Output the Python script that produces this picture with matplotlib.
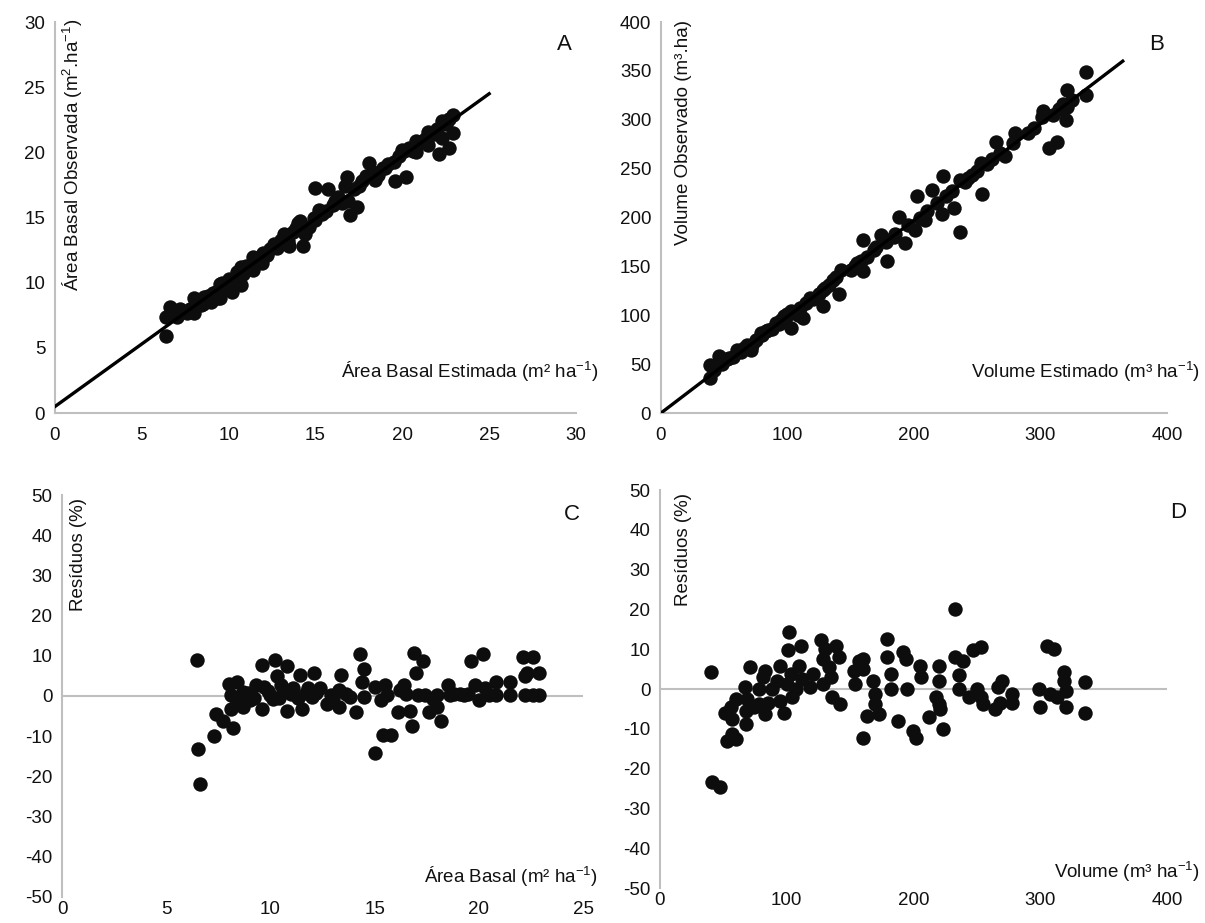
"""Observed vs estimated basal area / volume and residuals (4 panels)"""

import matplotlib
matplotlib.use("Agg")
import matplotlib.pyplot as plt

plt.rcParams['font.family'] = ['Liberation Sans', 'DejaVu Sans']
plt.rcParams['mathtext.fontset'] = 'custom'
plt.rcParams['mathtext.rm'] = 'Liberation Sans'
plt.rcParams['mathtext.it'] = 'Liberation Sans'
plt.rcParams['axes.unicode_minus'] = False

# ---- Panel A: basal area, estimated (x) vs observed (y)
ab_est = [6.4, 6.4, 6.6, 7.2, 7.6, 8.0, 8.0, 8.4, 8.6, 9.0, 9.4, 9.5, 9.5, 9.7, 10.2,
          10.4, 10.7, 10.7, 11.4, 11.4, 11.9, 12.0, 12.6, 13.2, 13.5, 14.0, 14.3, 14.4,
          15.0, 15.0, 15.4, 15.7, 16.1, 16.7, 16.8, 16.9, 17.0, 17.4, 17.7, 18.1, 18.4,
          19.0, 19.6, 20.2, 20.1, 20.8, 20.8, 21.5, 21.5, 22.1, 22.3, 22.7, 22.9, 22.9,
          22.3,
          7.0, 7.3, 7.8, 8.2, 8.5, 8.8, 9.1, 9.3, 9.6, 9.8, 10.0, 10.3, 10.5, 10.8, 11.0,
          11.2, 11.5, 11.7, 12.2, 12.4, 12.8, 13.0, 13.4, 13.7, 13.9, 14.1, 14.6, 14.9,
          15.2, 15.6, 16.0, 16.3, 16.5, 17.2, 17.5, 17.9, 18.3, 18.6, 18.9, 19.2, 19.5,
          19.8, 20.0, 20.4, 20.6, 21.0, 21.3, 21.8, 22.0, 22.5, 22.7]
ab_obs = [5.9, 7.4, 8.1, 8.0, 7.7, 7.7, 8.8, 8.3, 8.9, 8.5, 8.8, 9.9, 8.8, 9.5, 9.3,
          10.0, 9.8, 11.2, 11.0, 12.0, 11.5, 12.3, 13.0, 13.7, 12.8, 14.6, 12.8, 13.7,
          17.3, 14.8, 15.3, 17.2, 16.3, 17.4, 18.1, 16.3, 15.2, 15.8, 17.8, 19.2, 17.9,
          18.8, 17.8, 18.1, 20.1, 20.9, 20.0, 21.6, 20.6, 19.9, 21.1, 20.3, 21.5, 22.9,
          22.4,
          7.4, 7.8, 8.0, 8.5, 8.4, 9.0, 9.2, 9.3, 10.0, 9.7, 10.3, 10.2, 10.8, 10.7, 11.3,
          11.1, 11.6, 11.9, 12.1, 12.6, 12.7, 13.3, 13.2, 13.9, 14.2, 14.7, 14.3, 15.0,
          15.6, 15.5, 16.0, 16.6, 16.1, 17.2, 17.4, 18.2, 18.5, 18.3, 18.8, 19.1, 19.3,
          19.7, 20.2, 20.3, 20.1, 20.8, 21.0, 21.4, 21.8, 22.2, 22.6]
ab_line_x = [0, 25]
ab_line_y = [0.5, 24.5]

# ---- Panel B: volume, estimated (x) vs observed (y)
vol_est = [39, 39, 46, 54, 60, 68, 71, 79, 85, 91, 97, 103, 103, 108, 112, 120, 128, 128,
           136, 142, 141, 153, 160, 160, 168, 174, 179, 184, 188, 193, 202, 201, 209, 214,
           222, 223, 232, 236, 236, 246, 254, 253, 265, 272, 280, 301, 302, 307, 313, 320,
           321, 336, 336, 321,
           42, 48, 52, 57, 63, 66, 72, 75, 80, 83, 88, 93, 95, 99, 100, 105, 110, 115, 118,
           125, 130, 133, 138, 150, 155, 158, 163, 170, 178, 185, 195, 205, 210, 218, 225,
           230, 240, 243, 250, 258, 262, 268, 278, 290, 295, 310, 315, 318, 325]
vol_obs = [36, 49, 58, 56, 65, 70, 65, 82, 85, 92, 99, 104, 87, 100, 97, 117, 110, 126,
           136, 146, 122, 150, 145, 177, 167, 182, 156, 180, 201, 174, 222, 187, 197, 228,
           204, 242, 210, 185, 238, 244, 224, 256, 277, 263, 286, 303, 309, 271, 277, 300,
           330, 349, 325, 313,
           44, 50, 55, 57, 62, 67, 70, 75, 80, 84, 86, 91, 95, 98, 101, 103, 107, 113, 118,
           122, 128, 131, 139, 146, 153, 156, 160, 170, 175, 183, 192, 200, 207, 215, 222,
           227, 236, 240, 248, 255, 260, 266, 276, 286, 292, 305, 311, 316, 320]
vol_line_x = [0, 365]
vol_line_y = [0, 360]

# ---- Panel C: residuals (%) vs basal area
res_ab_x = [6.46, 6.5, 6.6, 7.3, 7.4, 7.7, 8.0, 8.1, 8.1, 8.2, 8.4, 8.7, 8.7, 9.0, 9.3,
            9.6, 9.7, 9.6, 10.0, 10.2, 10.3, 10.5, 10.8, 10.8, 11.1, 11.4, 11.5, 11.8,
            12.1, 12.4, 12.7, 12.9, 13.3, 13.3, 13.4, 13.8, 14.1, 14.3, 14.4, 14.5, 14.5,
            15.0, 15.0, 15.3, 15.5, 15.4, 15.8, 16.1, 16.2, 16.4, 16.7, 16.8, 16.9, 17.0,
            17.1, 17.3, 17.4, 17.6, 18.0, 18.0, 18.2, 18.5, 18.6, 19.1, 19.5, 19.6, 19.8,
            20.0, 20.2, 20.3, 20.8, 20.8, 21.5, 21.5, 22.1, 22.2, 22.2, 22.3, 22.6, 22.6,
            22.9, 22.9,
            9.2, 9.9, 10.4, 10.6, 11.0, 11.3, 11.7, 12.0, 12.2, 13.0, 13.6, 15.6, 16.5,
            17.8, 18.8, 19.3, 20.5, 10.1, 8.4, 8.9]
res_ab_y = [8.9, -13.3, -22.0, -10.0, -4.5, -6.2, 3.1, 0.2, -3.2, -7.9, 3.6, 1.0, -2.8,
            -1.1, 2.7, 7.8, 2.3, -3.2, 0.2, 8.9, 4.9, 2.7, 7.4, -3.7, 1.9, 5.3, -3.2, 1.9,
            5.7, 1.9, -1.9, 0.2, 1.5, -2.8, 5.3, -0.2, -4.0, 10.4, 3.6, 6.6, -0.2, 2.3,
            -14.3, -1.1, 2.7, -9.6, -9.6, -4.1, 1.5, 2.7, -3.7, -7.5, 10.6, 5.7, 0.2, 8.7,
            0.2, -4.1, 0.2, -2.8, -6.2, 2.7, 0.2, 0.6, 0.6, 8.7, 2.7, -1.1, 10.4, 1.9, 0.2,
            3.6, 0.2, 3.6, 9.7, 4.9, 0.2, 5.7, 9.7, 0.2, 0.2, 5.7,
            -0.5, 1.2, -0.4, 1.0, 0.5, -0.5, 0.8, -0.3, 0.7, -0.6, 0.4, 0.3, 0.5, -0.8, 0.4,
            0.3, 0.2, -0.8, -1.5, 0.8]

# ---- Panel D: residuals (%) vs volume
res_vol_x = [40, 41, 47, 51, 53, 56, 57, 57, 60, 60, 67, 68, 68, 69, 71, 74, 78, 78, 81,
             83, 83, 85, 88, 92, 95, 95, 98, 100, 101, 102, 103, 104, 107, 110, 111, 112,
             118, 121, 127, 129, 129, 130, 133, 135, 136, 139, 141, 142, 153, 154, 157,
             160, 160, 160, 163, 168, 170, 170, 173, 179, 179, 182, 182, 188, 192, 194,
             195, 200, 202, 205, 206, 212, 220, 220, 218, 220, 221, 223, 233, 233, 236,
             236, 239, 244, 247, 250, 253, 253, 255, 264, 267, 270, 268, 278, 278, 299,
             300, 305, 311, 308, 313, 319, 319, 320, 320, 335, 335]
res_vol_y = [4.4, -23.4, -24.6, -5.9, -13.0, -4.6, -7.6, -11.3, -12.6, -2.5, 0.4, -5.5,
             -8.8, -2.5, 5.5, -4.6, 0.0, -3.8, 2.9, 4.6, -6.3, -3.4, 0.0, 2.1, 5.9, -2.9,
             -5.9, 1.3, 9.7, 14.3, 3.8, -2.1, 0.0, 5.9, 10.9, 2.5, 0.4, 3.8, 12.2, 7.6,
             1.3, 10.1, 5.5, 2.9, -2.1, 10.9, 8.0, -3.8, 4.6, 1.3, 7.1, 7.6, -12.2, 5.0,
             -6.7, 2.1, -1.3, -3.8, -6.3, 12.6, 8.0, 3.8, 0.0, -8.0, 9.2, 7.6, 0.0, -10.5,
             -12.2, 5.9, 2.9, -7.1, 5.9, 2.1, -2.1, -3.8, -5.0, -10.1, 20.2, 8.0, 3.4, 0.0,
             7.1, -2.1, 9.7, 0.0, 10.5, -2.1, -3.8, -5.0, 0.4, 2.1, -3.4, -1.3, -3.4, 0.0,
             -4.6, 10.9, 10.1, -1.3, -2.1, 4.2, 2.1, -0.4, -4.6, 1.7, -5.9]

GRAY = '#BFBFBF'
DOT = '#0d0d0d'
FS = 13.5
MS = 108

fig = plt.figure(figsize=(12.05, 9.23), dpi=100)

def style(ax, xlim, ylim, xstep, ystep, zero_line=False):
    ax.set_xlim(*xlim)
    ax.set_ylim(*ylim)
    ax.set_xticks(range(xlim[0], xlim[1] + 1, xstep))
    ax.set_yticks(range(ylim[0], ylim[1] + 1, ystep))
    for s in ['top', 'right']:
        ax.spines[s].set_visible(False)
    ax.spines['left'].set_color(GRAY)
    ax.spines['left'].set_linewidth(1.5)
    if zero_line:
        ax.spines['bottom'].set_visible(False)
        ax.axhline(0, color=GRAY, lw=1.5, zorder=1)
        ax.tick_params(axis='x', pad=3)
    else:
        ax.spines['bottom'].set_color(GRAY)
        ax.spines['bottom'].set_linewidth(1.5)
        ax.tick_params(axis='x', pad=10)
    ax.tick_params(length=0, labelsize=FS, colors='#111111')
    ax.tick_params(axis='y', pad=7)

# A
axA = fig.add_axes([0.0456, 0.5525, 0.4324, 0.4236])
style(axA, (0, 30), (0, 30), 5, 5)
axA.plot(ab_line_x, ab_line_y, color='black', lw=2.4, zorder=3)
axA.scatter(ab_est, ab_obs, s=MS, color=DOT, zorder=2, linewidths=0)

# B
axB = fig.add_axes([0.5485, 0.5525, 0.420, 0.4236])
style(axB, (0, 400), (0, 400), 100, 50)
axB.plot(vol_line_x, vol_line_y, color='black', lw=2.4, zorder=3)
axB.scatter(vol_est, vol_obs, s=MS, color=DOT, zorder=2, linewidths=0)

# C
axC = fig.add_axes([0.0515, 0.0282, 0.4324, 0.4355])
style(axC, (0, 25), (-50, 50), 5, 10, zero_line=True)
axC.scatter(res_ab_x, res_ab_y, s=MS, color=DOT, zorder=2, linewidths=0)

# D
axD = fig.add_axes([0.5477, 0.0379, 0.4207, 0.4312])
style(axD, (0, 400), (-50, 50), 100, 10, zero_line=True)
axD.scatter(res_vol_x, res_vol_y, s=MS, color=DOT, zorder=2, linewidths=0)

# axis titles and panel letters (figure pixel coords)
def ftext(px, py, s, size=FS, **kw):
    fig.text(px / 1205, 1 - py / 923, s, fontsize=size, color='#111111', **kw)

ftext(73, 18, 'Área Basal Observada (m$^{2}$.ha$^{-1}$)', rotation=90, ha='center', va='top')
ftext(598, 372, 'Área Basal Estimada (m² ha$^{-1}$)', ha='right', va='center')
ftext(683, 20, 'Volume Observado (m³.ha)', rotation=90, ha='center', va='top')
ftext(1200, 372, 'Volume Estimado (m³ ha$^{-1}$)', ha='right', va='center')
ftext(78, 498, 'Resíduos (%)', rotation=90, ha='center', va='top')
ftext(598, 877, 'Área Basal (m² ha$^{-1}$)', ha='right', va='center')
ftext(683, 493, 'Resíduos (%)', rotation=90, ha='center', va='top')
ftext(1200, 872, 'Volume (m³ ha$^{-1}$)', ha='right', va='center')

ftext(564, 44, 'A', size=16, ha='center', va='center')
ftext(1157, 44, 'B', size=16, ha='center', va='center')
ftext(572, 514, 'C', size=16, ha='center', va='center')
ftext(1178, 513, 'D', size=16, ha='center', va='center')

fig.savefig('out.png', dpi=100)
